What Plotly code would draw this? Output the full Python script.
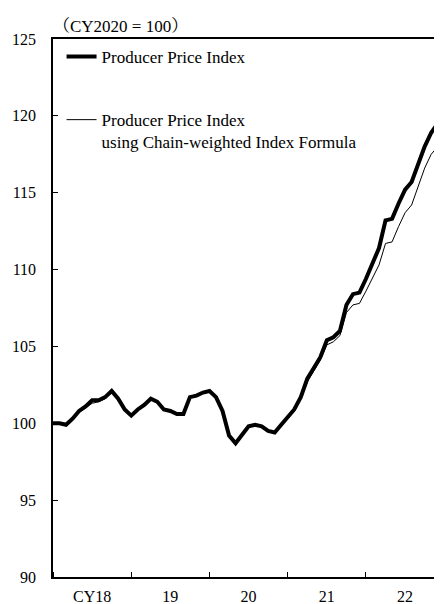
import plotly.graph_objects as go

# Monthly, Jan 2018 - Dec 2022
months = [f"{y}-{m:02d}" for y in range(2018, 2023) for m in range(1, 13)]

ppi = [
    # 2018
    100.0, 100.0, 99.9, 100.3, 100.8, 101.1, 101.5, 101.5, 101.7, 102.1, 101.6, 100.9,
    # 2019
    100.5, 100.9, 101.2, 101.6, 101.4, 100.9, 100.8, 100.6, 100.6, 101.7, 101.8, 102.0,
    # 2020
    102.1, 101.7, 100.8, 99.2, 98.7, 99.3, 99.8, 99.9, 99.8, 99.5, 99.4, 99.9,
    # 2021
    100.4, 100.9, 101.7, 102.9, 103.6, 104.3, 105.4, 105.6, 106.0, 107.7, 108.4, 108.5,
    # 2022
    109.4, 110.4, 111.4, 113.2, 113.3, 114.3, 115.2, 115.7, 116.9, 118.0, 118.9, 119.5,
]

chain = [
    # 2018
    100.0, 100.0, 99.9, 100.2, 100.7, 101.0, 101.3, 101.4, 101.6, 102.0, 101.6, 100.9,
    # 2019
    100.5, 100.9, 101.2, 101.6, 101.4, 100.9, 100.8, 100.6, 100.6, 101.7, 101.8, 102.0,
    # 2020
    102.1, 101.7, 100.8, 99.2, 98.7, 99.3, 99.8, 99.9, 99.8, 99.5, 99.4, 99.9,
    # 2021
    100.3, 100.8, 101.6, 102.7, 103.4, 104.1, 105.1, 105.3, 105.7, 107.2, 107.7, 107.8,
    # 2022
    108.6, 109.4, 110.3, 111.7, 111.8, 112.8, 113.7, 114.2, 115.4, 116.6, 117.5, 118.0,
]

year_label_pos = [6, 18, 30, 42, 54]
year_labels = ["CY18", "19", "20", "21", "22"]
y_ticks = [90, 95, 100, 105, 110, 115, 120, 125]

x = list(range(len(months)))
FONT = "Liberation Serif"

fig = go.Figure()
fig.add_trace(go.Scatter(
    x=x, y=ppi, mode="lines", name="Producer Price Index",
    line=dict(color="black", width=4), legendgroup="a",
    customdata=months,
))
fig.add_trace(go.Scatter(
    x=x, y=chain, mode="lines",
    name="Producer Price Index<br>using Chain-weighted Index Formula",
    line=dict(color="black", width=1), legendgroup="b",
    customdata=months,
))

fig.update_layout(
    width=434, height=596,
    margin=dict(l=45, r=0, t=31, b=27),
    paper_bgcolor="white", plot_bgcolor="white",
    font=dict(family=FONT, size=16, color="black"),
    showlegend=True,
    legend=dict(
        x=0.022, y=1.0, xanchor="left", yanchor="top", valign="top",
        bgcolor="rgba(0,0,0,0)", font=dict(family=FONT, size=17, color="black"),
        tracegroupgap=38, itemwidth=30,
    ),
    xaxis=dict(
        range=[0, 59.66], showgrid=False, zeroline=False,
        showline=True, linecolor="black", linewidth=1.5, mirror=True,
        tickmode="array", tickvals=year_label_pos, ticktext=year_labels,
        ticks="", ticklabelstandoff=4,
        minor=dict(ticks="inside", tick0=0, dtick=12, ticklen=5, tickcolor="black", tickwidth=1),
        tickfont=dict(family=FONT, size=16, color="black"),
    ),
    yaxis=dict(
        range=[90, 125], showgrid=False, zeroline=False,
        showline=True, linecolor="black", linewidth=1.5,
        tickmode="array", tickvals=y_ticks,
        ticks="inside", ticklen=5, tickcolor="black", tickwidth=1,
        ticklabelstandoff=12,
        tickfont=dict(family=FONT, size=16, color="black"),
    ),
    annotations=[dict(
        text="（CY2020 = 100）", xref="paper", yref="paper",
        x=-0.005, y=1.0, xanchor="left", yanchor="bottom", yshift=1,
        showarrow=False,
        font=dict(family="Liberation Serif, Noto Serif CJK JP, Noto Sans CJK JP", size=17, color="black"),
    )],
)

fig.write_html("out.html")
